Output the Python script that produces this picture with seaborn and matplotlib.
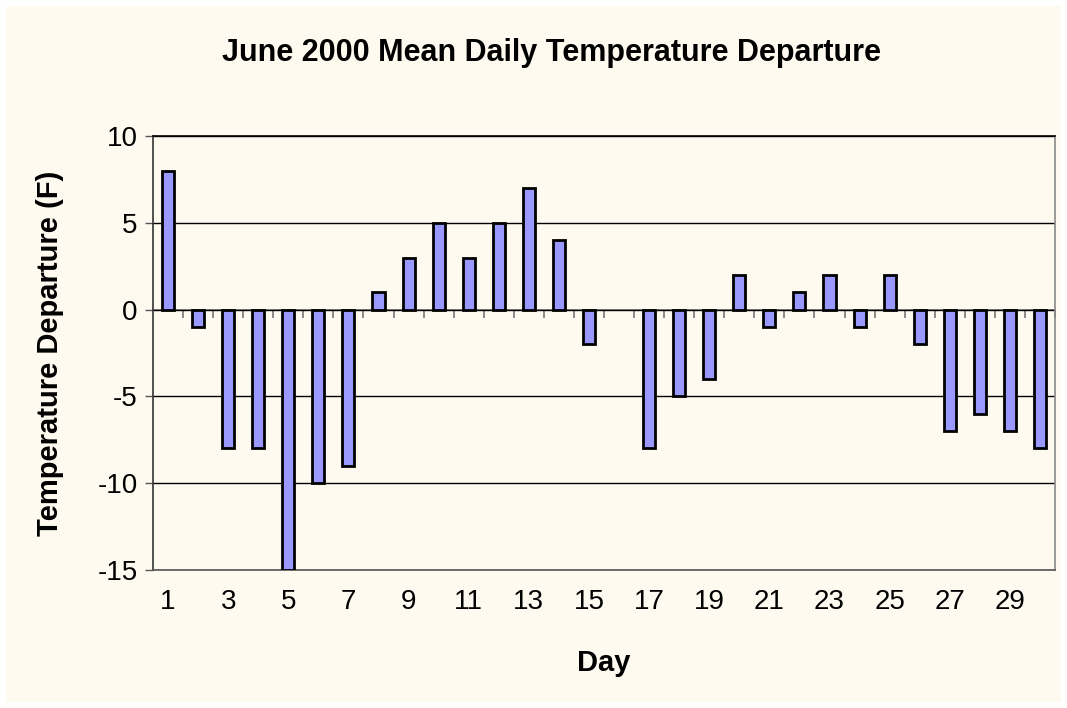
import pandas as pd
import seaborn as sns
import matplotlib.pyplot as plt
from matplotlib.patches import Rectangle

# Data (day 16 has no bar)
days = [str(d) for d in range(1, 31)]
departure = [8, -1, -8, -8, -15, -10, -9, 1, 3, 5,
             3, 5, 7, 4, -2, None, -8, -5, -4, 2,
             -1, 1, 2, -1, 2, -2, -7, -6, -7, -8]
tick_days = days[::2]
y_ticks = [-15, -10, -5, 0, 5, 10]

df = pd.DataFrame({'day': days, 'departure': departure})
df['departure'] = df['departure'].astype(float)

cream = '#FEFAF0'
sns.set_theme(style='white')
plt.rcParams['font.family'] = ['Liberation Sans', 'DejaVu Sans']
plt.rcParams['text.color'] = 'black'
plt.rcParams['axes.labelcolor'] = 'black'
plt.rcParams['xtick.color'] = 'black'
plt.rcParams['ytick.color'] = 'black'

fig = plt.figure(figsize=(10.67, 7.08), dpi=100)
fig.patch.set_facecolor('white')
fig.patches.append(Rectangle((6 / 1067, 6 / 708), 1 - 12 / 1067, 1 - 12 / 708,
                             transform=fig.transFigure, facecolor=cream,
                             edgecolor='none', zorder=-10))

ax = fig.add_axes([153 / 1067, 1 - 570 / 708, 902 / 1067, 434 / 708])
ax.set_facecolor(cream)

sns.barplot(data=df, x='day', y='departure', order=days, color='#9999FF',
            width=0.4, edgecolor='black', linewidth=2, saturation=1,
            errorbar=None, ax=ax, zorder=3)

ax.set_ylim(-15, 10)
ax.set_xlim(-0.5, 29.5)
ax.set_yticks(y_ticks)
ax.set_yticklabels([str(v) for v in y_ticks], fontsize=20)
ax.yaxis.grid(True, color='black', linewidth=1)
ax.set_axisbelow(True)
ax.tick_params(axis='y', direction='out', length=6, width=1, color='#555555',
               labelcolor='black', left=True, pad=5)

ax.set_xticks(range(0, 30, 2))
ax.set_xticklabels(tick_days, fontsize=20)
ax.tick_params(axis='x', length=0, pad=14, labelcolor='black')

for side in ['left', 'right', 'top', 'bottom']:
    ax.spines[side].set_visible(True)
ax.spines['left'].set_color('#333333')
ax.spines['right'].set_color('#888888')
ax.spines['bottom'].set_color('#555555')
ax.spines['top'].set_color('black')
for s in ax.spines.values():
    s.set_linewidth(1.2)

# category axis crossing at zero with ticks between categories
sec = ax.secondary_xaxis(0, transform=ax.transData)
sec.set_xticks([i + 0.5 for i in range(len(days))])
sec.set_xticklabels([])
sec.tick_params(direction='out', length=6, width=1.2, color='#777777')
sec.spines['bottom'].set_color('#777777')
sec.spines['bottom'].set_linewidth(1.2)

ax.set_xlabel('Day', fontsize=21, fontweight='bold', labelpad=24)
ax.set_ylabel('Temperature Departure (F)', fontsize=21, fontweight='bold',
              labelpad=24)
fig.text(551 / 1067, 1 - 53 / 708, 'June 2000 Mean Daily Temperature Departure',
         ha='center', va='center', fontsize=22, fontweight='bold')

fig.savefig('out.png', dpi=100, facecolor=fig.get_facecolor())
